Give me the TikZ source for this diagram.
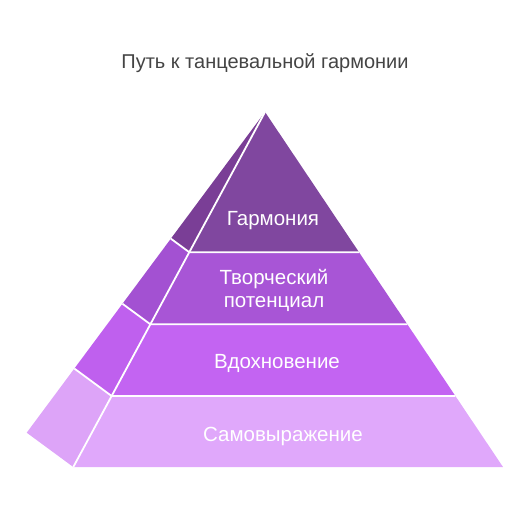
\documentclass[tikz,border=0pt]{standalone}
\usepackage{fontspec}
\setmainfont{Liberation Sans}
\usetikzlibrary{calc}
\definecolor{titlegray}{HTML}{444444}
\definecolor{fA}{HTML}{80479F}
\definecolor{sA}{HTML}{7A3E96}
\definecolor{fB}{HTML}{A855D6}
\definecolor{sB}{HTML}{A351D2}
\definecolor{fC}{HTML}{C364F2}
\definecolor{sC}{HTML}{BF60EE}
\definecolor{fD}{HTML}{E0A8FB}
\definecolor{sD}{HTML}{DDA4F8}
\tikzset{
  face/.style={draw=white, line width=1.8pt, line join=round},
  lbl/.style={text=white, font=\fontsize{20.5}{23}\selectfont, align=center, inner sep=0pt},
  ttl/.style={text=titlegray, font=\fontsize{20}{23}\selectfont, inner sep=0pt}
}
\begin{document}
\begin{tikzpicture}[x=1pt,y=-1pt]
\useasboundingbox (0,0) rectangle (530,518);
\coordinate (A) at (265,112);
\coordinate (B) at (26.7,432.7);
\coordinate (L) at (73.3,467);
\coordinate (R) at (503,467);
\foreach \n/\t in {1/0.395,2/0.598,3/0.8}{
  \coordinate (L\n) at ($(A)!\t!(L)$);
  \coordinate (R\n) at ($(A)!\t!(R)$);
  \coordinate (B\n) at ($(A)!\t!(B)$);
}
% side faces
\fill[sA] (A) -- (B1) -- (L1) -- cycle;
\fill[sB] (B1) -- (B2) -- (L2) -- (L1) -- cycle;
\fill[sC] (B2) -- (B3) -- (L3) -- (L2) -- cycle;
\fill[sD] (B3) -- (B) -- (L) -- (L3) -- cycle;
% front faces
\fill[fA] (A) -- (L1) -- (R1) -- cycle;
\fill[fB] (L1) -- (L2) -- (R2) -- (R1) -- cycle;
\fill[fC] (L2) -- (L3) -- (R3) -- (R2) -- cycle;
\fill[fD] (L3) -- (L) -- (R) -- (R3) -- cycle;
% white separators
\draw[face] (A) -- (L);
\draw[face] (B1) -- (L1) -- (R1);
\draw[face] (B2) -- (L2) -- (R2);
\draw[face] (B3) -- (L3) -- (R3);
% texts
\node[ttl] (title) at (265,63.5) {Путь к танцевальной гармонии};
\node[lbl] (t1) at (273,220.5) {Гармония};
\node[lbl] (t2) at (274,290.5) {Творческий\\потенциал};
\node[lbl] (t3) at (277,363.5) {Вдохновение};
\node[lbl] (t4) at (283,436.5) {Самовыражение};
\end{tikzpicture}
\end{document}
